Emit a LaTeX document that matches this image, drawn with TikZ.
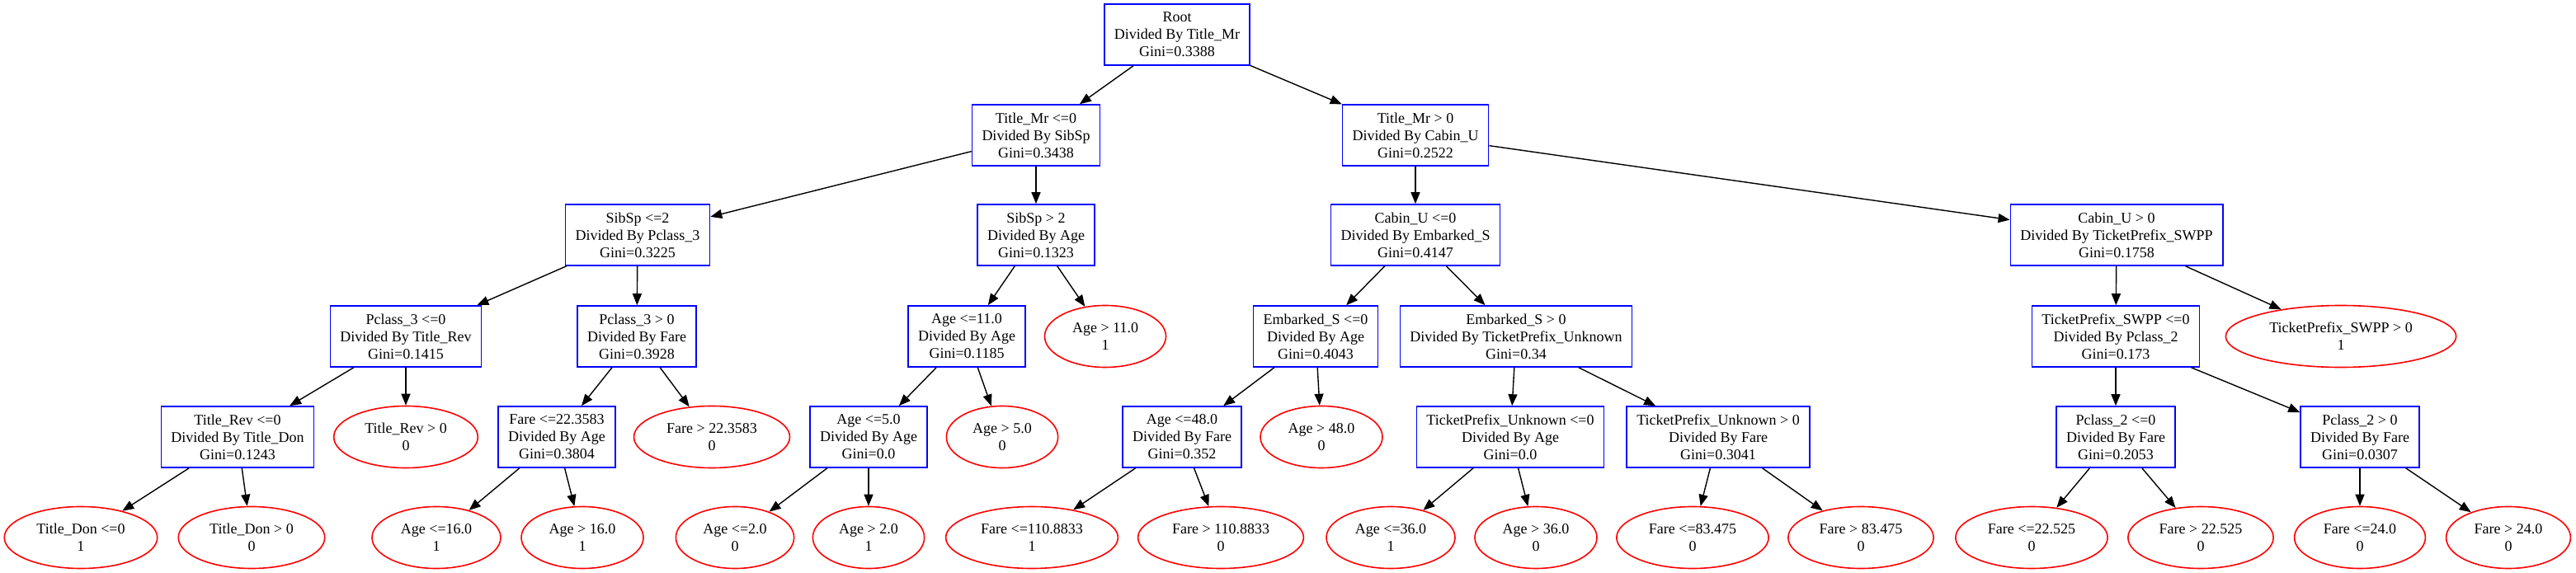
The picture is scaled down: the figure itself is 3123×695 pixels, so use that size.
\documentclass[tikz,border=0pt]{standalone}
\usepackage{fontspec}
\setmainfont{Liberation Serif}
\usepackage{tikz}
\usetikzlibrary{arrows.meta,shapes.geometric}

\begin{document}
\begin{tikzpicture}[x=0.5pt,y=-0.5pt,
	decision/.style={rectangle,draw=blue,line width=0.8pt,align=center,
		font=\fontsize{9pt}{10.5pt}\selectfont,inner xsep=6pt,minimum height=37pt},
	outcome/.style={ellipse,draw=red,line width=0.8pt,align=center,
		font=\fontsize{9pt}{10.5pt}\selectfont,inner xsep=6pt,inner ysep=1pt,minimum height=37.5pt},
	branch/.style={line width=0.7pt,-{Triangle[length=7pt,width=5.5pt]}}]
	\useasboundingbox (0,0) rectangle (3123,695);
	% level 0 and 1
	\node[decision] (0) at (1427,42) {Root\\Divided By Title\_Mr\\Gini=0.3388};
	\node[decision] (1) at (1256,164) {Title\_Mr <=0\\Divided By SibSp\\Gini=0.3438};
	\node[decision] (2) at (1716,164) {Title\_Mr > 0\\Divided By Cabin\_U\\Gini=0.2522};
	% level 2
	\node[decision] (3) at (773,285) {SibSp <=2\\Divided By Pclass\_3\\Gini=0.3225};
	\node[decision] (4) at (1256,285) {SibSp > 2\\Divided By Age\\Gini=0.1323};
	\node[decision] (5) at (1716,285) {Cabin\_U <=0\\Divided By Embarked\_S\\Gini=0.4147};
	\node[decision] (6) at (2566,285) {Cabin\_U > 0\\Divided By TicketPrefix\_SWPP\\Gini=0.1758};
	% level 3
	\node[decision] (7) at (492,408) {Pclass\_3 <=0\\Divided By Title\_Rev\\Gini=0.1415};
	\node[decision] (8) at (772,408) {Pclass\_3 > 0\\Divided By Fare\\Gini=0.3928};
	\node[decision] (9) at (1172,408) {Age <=11.0\\Divided By Age\\Gini=0.1185};
	\node[outcome] (10) at (1340,408) {Age > 11.0\\1};
	\node[decision] (11) at (1595,408) {Embarked\_S <=0\\Divided By Age\\Gini=0.4043};
	\node[decision] (12) at (1838,408) {Embarked\_S > 0\\Divided By TicketPrefix\_Unknown\\Gini=0.34};
	\node[decision] (13) at (2565,408) {TicketPrefix\_SWPP <=0\\Divided By Pclass\_2\\Gini=0.173};
	\node[outcome] (14) at (2838,408) {TicketPrefix\_SWPP > 0\\1};
	% level 4
	\node[decision] (15) at (288,530) {Title\_Rev <=0\\Divided By Title\_Don\\Gini=0.1243};
	\node[outcome] (16) at (492,530) {Title\_Rev > 0\\0};
	\node[decision] (17) at (675,530) {Fare <=22.3583\\Divided By Age\\Gini=0.3804};
	\node[outcome] (18) at (863,530) {Fare > 22.3583\\0};
	\node[decision] (19) at (1053,530) {Age <=5.0\\Divided By Age\\Gini=0.0};
	\node[outcome] (20) at (1215,530) {Age > 5.0\\0};
	\node[decision] (21) at (1433,530) {Age <=48.0\\Divided By Fare\\Gini=0.352};
	\node[outcome] (22) at (1602,530) {Age > 48.0\\0};
	\node[decision] (23) at (1831,530) {TicketPrefix\_Unknown <=0\\Divided By Age\\Gini=0.0};
	\node[decision] (24) at (2083,530) {TicketPrefix\_Unknown > 0\\Divided By Fare\\Gini=0.3041};
	\node[decision] (25) at (2565,530) {Pclass\_2 <=0\\Divided By Fare\\Gini=0.2053};
	\node[decision] (26) at (2861,530) {Pclass\_2 > 0\\Divided By Fare\\Gini=0.0307};
	% level 5
	\node[outcome] (27) at (98,652) {Title\_Don <=0\\1};
	\node[outcome] (28) at (305,652) {Title\_Don > 0\\0};
	\node[outcome] (29) at (529,652) {Age <=16.0\\1};
	\node[outcome] (30) at (706,652) {Age > 16.0\\1};
	\node[outcome] (31) at (891,652) {Age <=2.0\\0};
	\node[outcome] (32) at (1053,652) {Age > 2.0\\1};
	\node[outcome] (33) at (1251,652) {Fare <=110.8833\\1};
	\node[outcome] (34) at (1480,652) {Fare > 110.8833\\0};
	\node[outcome] (35) at (1686,652) {Age <=36.0\\1};
	\node[outcome] (36) at (1862,652) {Age > 36.0\\0};
	\node[outcome] (37) at (2052,652) {Fare <=83.475\\0};
	\node[outcome] (38) at (2256,652) {Fare > 83.475\\0};
	\node[outcome] (39) at (2463,652) {Fare <=22.525\\0};
	\node[outcome] (40) at (2668,652) {Fare > 22.525\\0};
	\node[outcome] (41) at (2861,652) {Fare <=24.0\\0};
	\node[outcome] (42) at (3041,652) {Fare > 24.0\\0};
	% edges
	\draw[branch] (0) -- (1);
	\draw[branch] (0) -- (2);
	\draw[branch] (1) -- (3);
	\draw[branch] (1) -- (4);
	\draw[branch] (2) -- (5);
	\draw[branch] (2) -- (6);
	\draw[branch] (3) -- (7);
	\draw[branch] (3) -- (8);
	\draw[branch] (4) -- (9);
	\draw[branch] (4) -- (10);
	\draw[branch] (5) -- (11);
	\draw[branch] (5) -- (12);
	\draw[branch] (6) -- (13);
	\draw[branch] (6) -- (14);
	\draw[branch] (7) -- (15);
	\draw[branch] (7) -- (16);
	\draw[branch] (8) -- (17);
	\draw[branch] (8) -- (18);
	\draw[branch] (9) -- (19);
	\draw[branch] (9) -- (20);
	\draw[branch] (11) -- (21);
	\draw[branch] (11) -- (22);
	\draw[branch] (12) -- (23);
	\draw[branch] (12) -- (24);
	\draw[branch] (13) -- (25);
	\draw[branch] (13) -- (26);
	\draw[branch] (15) -- (27);
	\draw[branch] (15) -- (28);
	\draw[branch] (17) -- (29);
	\draw[branch] (17) -- (30);
	\draw[branch] (19) -- (31);
	\draw[branch] (19) -- (32);
	\draw[branch] (21) -- (33);
	\draw[branch] (21) -- (34);
	\draw[branch] (23) -- (35);
	\draw[branch] (23) -- (36);
	\draw[branch] (24) -- (37);
	\draw[branch] (24) -- (38);
	\draw[branch] (25) -- (39);
	\draw[branch] (25) -- (40);
	\draw[branch] (26) -- (41);
	\draw[branch] (26) -- (42);
\end{tikzpicture}
\end{document}
